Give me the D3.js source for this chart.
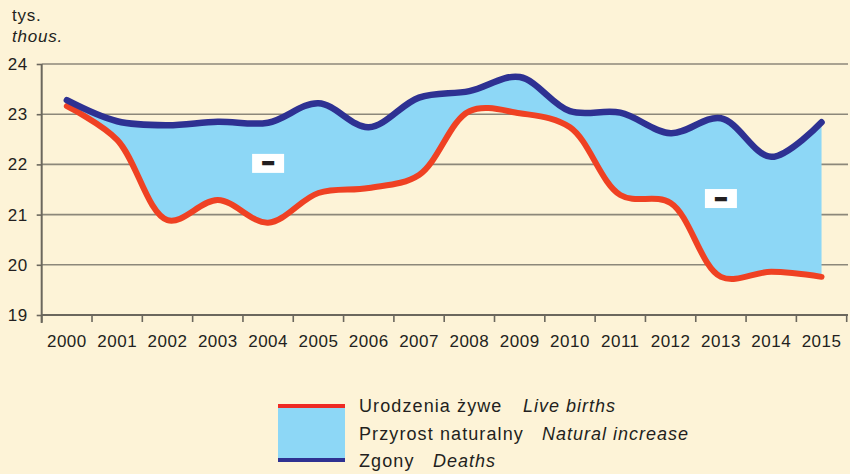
<!DOCTYPE html>
<html>
<head>
<meta charset="utf-8">
<script src="https://cdn.jsdelivr.net/npm/d3@7"></script>
<style>
  body { margin: 0; background: #fdf3d7; }
  svg { display: block; font-family: "Liberation Sans", Arial, sans-serif; }
</style>
</head>
<body>
<div id="chart"></div>
<script>
// data (thousands)
const years = ["2000", "2001", "2002", "2003", "2004", "2005", "2006", "2007",
  "2008", "2009", "2010", "2011", "2012", "2013", "2014", "2015"];
const births = [23.16, 22.49, 20.89, 21.29, 20.84, 21.43, 21.53, 21.79,
  23.06, 23.02, 22.74, 21.39, 21.23, 19.76, 19.86, 19.76];
const deaths = [23.28, 22.86, 22.78, 22.85, 22.83, 23.22, 22.74, 23.33,
  23.46, 23.74, 23.06, 23.03, 22.62, 22.92, 22.15, 22.84];
const yTicks = [19, 20, 21, 22, 23, 24];
// years where natural increase is marked negative
const minusAt = [{ year: "2004", value: 22.02 }, { year: "2013", value: 21.32 }];

const svg = d3.select("#chart").append("svg").attr("width", 850).attr("height", 474);

svg.append("rect").attr("width", 850).attr("height", 474).attr("fill", "#fdf3d7");

const x = d3.scaleBand().domain(years).range([41.7, 846.7]);
const y = d3.scaleLinear().domain([19, 24]).range([315, 64]);
const cx = d => x(d) + x.bandwidth() / 2;

// ----- grid -------
svg.append("g")
  .selectAll("line")
  .data(yTicks.slice(1))
  .join("line")
  .attr("x1", 41.7)
  .attr("x2", 848)
  .attr("y1", d => y(d))
  .attr("y2", d => y(d))
  .attr("stroke", "#8c877a")
  .attr("stroke-width", 1.6);

// ----- area + lines -------
const curve = d3.curveCatmullRom.alpha(0.5);

const area = d3.area()
  .x(d => cx(d))
  .y0((d, i) => y(births[i]))
  .y1((d, i) => y(deaths[i]))
  .curve(curve);

svg.append("path")
  .attr("d", area(years))
  .attr("fill", "#8dd7f6");

const birthLine = d3.line().x(d => cx(d)).y((d, i) => y(births[i])).curve(curve);
const deathLine = d3.line().x(d => cx(d)).y((d, i) => y(deaths[i])).curve(curve);

svg.append("path")
  .attr("d", birthLine(years))
  .attr("fill", "none")
  .attr("stroke", "#ef4123")
  .attr("stroke-width", 6)
  .attr("stroke-linecap", "round");

svg.append("path")
  .attr("d", deathLine(years))
  .attr("fill", "none")
  .attr("stroke", "#2e3192")
  .attr("stroke-width", 6.5)
  .attr("stroke-linecap", "round");

// ----- minus labels -------
const minus = svg.append("g")
  .selectAll("g")
  .data(minusAt)
  .join("g")
  .attr("transform", d => `translate(${cx(d.year)},${y(d.value)})`);

minus.append("rect")
  .attr("x", -16)
  .attr("y", -9.5)
  .attr("width", 32)
  .attr("height", 19)
  .attr("fill", "white");

minus.append("text")
  .attr("text-anchor", "middle")
  .attr("dy", "0.35em")
  .attr("y", 0)
  .attr("font-size", 20)
  .attr("font-weight", "bold")
  .attr("fill", "#231f20")
  .attr("stroke", "#231f20")
  .attr("stroke-width", 2)
  .text("−");

// ----- axes -------
const xAxis = svg.append("g")
  .attr("transform", "translate(0,315)")
  .call(d3.axisBottom(x).tickSize(0).tickPadding(20));
xAxis.select(".domain").remove();
xAxis.selectAll("text")
  .attr("font-size", 17)
  .attr("letter-spacing", 0.5)
  .attr("font-family", "Liberation Sans, Arial, sans-serif")
  .attr("fill", "#231f20");

// tick marks between the years
svg.append("g")
  .selectAll("line")
  .data(years.concat(["end"]))
  .join("line")
  .attr("x1", (d, i) => i < years.length ? x(d) : x.range()[1])
  .attr("x2", (d, i) => i < years.length ? x(d) : x.range()[1])
  .attr("y1", 315)
  .attr("y2", 322)
  .attr("stroke", "#6b675d")
  .attr("stroke-width", 1.6);

svg.append("line")
  .attr("x1", 41.7).attr("x2", 848)
  .attr("y1", 315).attr("y2", 315)
  .attr("stroke", "#6b675d")
  .attr("stroke-width", 2);

const yAxis = svg.append("g")
  .attr("transform", "translate(41.7,0)")
  .call(d3.axisLeft(y).tickValues(yTicks).tickFormat(d3.format("d")).tickSize(5).tickPadding(9));
yAxis.select(".domain")
  .attr("d", "M0,64V323")
  .attr("stroke", "#6b675d")
  .attr("stroke-width", 2);
yAxis.selectAll(".tick line").attr("stroke", "#6b675d").attr("stroke-width", 1.6);
yAxis.selectAll("text")
  .attr("font-size", 17)
  .attr("letter-spacing", 0.5)
  .attr("font-family", "Liberation Sans, Arial, sans-serif")
  .attr("fill", "#231f20");

// ----- unit -------
svg.append("text")
  .attr("x", 12)
  .attr("y", 21)
  .attr("font-size", 17)
  .attr("letter-spacing", 0.8)
  .attr("fill", "#231f20")
  .text("tys.");

svg.append("text")
  .attr("x", 12)
  .attr("y", 42)
  .attr("font-size", 17)
  .attr("letter-spacing", 0.8)
  .attr("font-style", "italic")
  .attr("fill", "#231f20")
  .text("thous.");

// ----- legend -------
const legend = svg.append("g");

legend.append("rect")
  .attr("x", 278)
  .attr("y", 404)
  .attr("width", 67)
  .attr("height", 58)
  .attr("fill", "#8dd7f6");

legend.append("rect")
  .attr("x", 278).attr("y", 404)
  .attr("width", 67).attr("height", 4)
  .attr("fill", "#ee2a24");

legend.append("rect")
  .attr("x", 278).attr("y", 458)
  .attr("width", 67).attr("height", 4)
  .attr("fill", "#2e3192");

const legendItems = [
  { pl: "Urodzenia żywe", en: "Live births", y: 412, enX: 523 },
  { pl: "Przyrost naturalny", en: "Natural increase", y: 439.5, enX: 542 },
  { pl: "Zgony", en: "Deaths", y: 467, enX: 433 }
];

legendItems.forEach(d => {
  legend.append("text")
    .attr("x", 359)
    .attr("y", d.y)
    .attr("font-size", 18)
    .attr("letter-spacing", 1.1)
    .attr("fill", "#231f20")
    .text(d.pl);
  legend.append("text")
    .attr("x", d.enX)
    .attr("y", d.y)
    .attr("font-size", 18)
    .attr("letter-spacing", 1.0)
    .attr("font-style", "italic")
    .attr("fill", "#231f20")
    .text(d.en);
});
</script>
</body>
</html>
